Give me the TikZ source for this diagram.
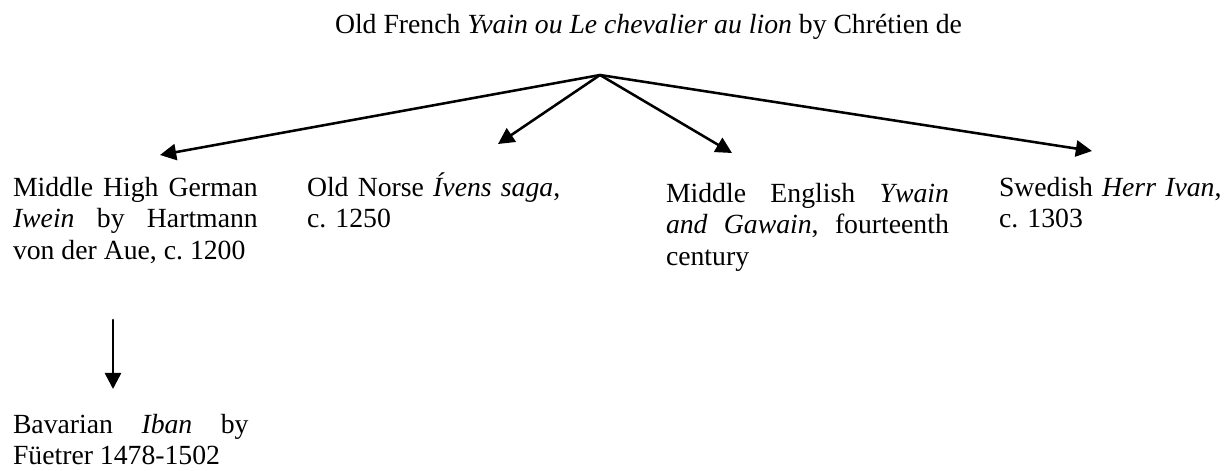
\documentclass[tikz,border=0pt]{standalone}
\usepackage{fontspec}
\setmainfont{Liberation Serif}
\usepackage{tikz}
\usetikzlibrary{arrows.meta}
\frenchspacing
\tolerance=10000
\tikzset{
  >={Triangle[length=7pt,width=7pt]},
  every picture/.style={line cap=round, line join=round},
  lbl/.style={font=\fontsize{12}{13.8}\selectfont, inner sep=0pt, outer sep=0pt},
  branch/.style={line width=1.1pt, ->},
}

\begin{document}
\begin{tikzpicture}[x=0.433pt, y=-0.433pt,
  headline/.style={lbl, anchor=base west},
  justbox/.style={lbl, anchor=base west, align=justify},
  raggedbox/.style={lbl, anchor=base west, align=left},
]
\useasboundingbox (0,0) rectangle (1225,470);
% ------------------------------------------------------------- source
\node[headline] (chretien) at (335,33)
  {Old French \textit{Yvain ou Le chevalier au lion} by Chrétien de};
\coordinate (fork) at (600,75);

% ------------------------------------------------------------- versions
\node[justbox, text width=106pt] (hartmann) at (13,196)
  {Middle High German\linebreak \textit{Iwein} by Hartmann\linebreak von der Aue, c. 1200};
\node[raggedbox, text width=118pt] (ivens) at (307,196)
  {Old Norse \textit{Ívens saga},\\ c. 1250};
\node[justbox, text width=122.5pt] (ywain) at (666,202)
  {Middle English \textit{Ywain}\linebreak \textit{and Gawain}, fourteenth\linebreak century};
\node[raggedbox, text width=120pt] (herrivan) at (999,196)
  {Swedish \textit{Herr Ivan},\\ c. 1303};
\node[justbox, text width=102pt] (iban) at (13,433)
  {Bavarian \textit{Iban} by\linebreak Füetrer 1478-1502};

\coordinate (tipA) at (160,155);
\coordinate (tipB) at (498,144);
\coordinate (tipC) at (732,153);
\coordinate (tipD) at (1092,151);
\coordinate (downtop) at (113,320);
\coordinate (downtip) at (113,389);

\foreach \t in {tipA,tipB,tipC,tipD}
  \draw[branch] (fork) -- (\t);
\draw[branch] (downtop) -- (downtip);
\end{tikzpicture}
\end{document}
